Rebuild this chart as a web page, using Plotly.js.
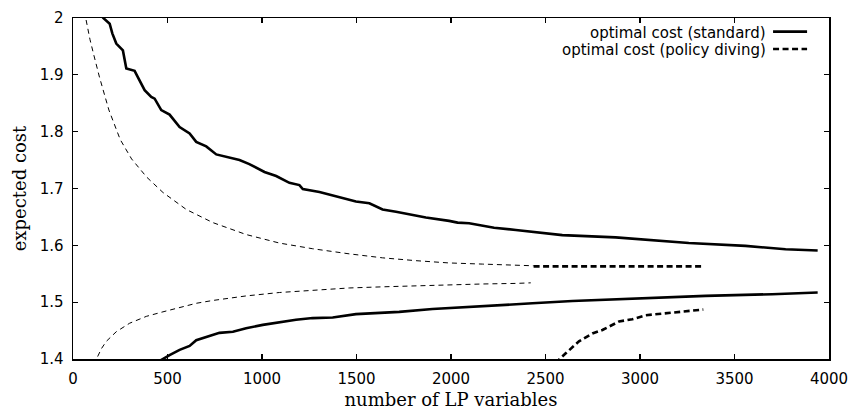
<!DOCTYPE html>
<html>
<head>
<meta charset="utf-8">
<script src="https://cdn.plot.ly/plotly-3.0.1.min.js"></script>
<style>html,body{margin:0;padding:0;background:#fff;}#chart{width:852px;height:414px;}</style>
</head>
<body>
<div id="chart"></div>
<script>
// optimal cost (standard): upper curve
var stdUpperX = [150, 160, 194, 208, 229, 264, 282, 326, 343, 379, 414, 432, 467, 511, 564, 617, 652, 705, 758, 811, 881, 933, 1013, 1075, 1145, 1198, 1216, 1304, 1348, 1427, 1497, 1568, 1638, 1709, 1797, 1867, 1990, 2035, 2096, 2228, 2343, 2449, 2519, 2589, 2871, 2994, 3100, 3258, 3558, 3770, 3940];
var stdUpperY = [2.005, 2.000, 1.990, 1.973, 1.955, 1.943, 1.911, 1.907, 1.896, 1.873, 1.861, 1.858, 1.838, 1.830, 1.808, 1.797, 1.782, 1.774, 1.760, 1.756, 1.750, 1.743, 1.729, 1.722, 1.710, 1.706, 1.699, 1.694, 1.690, 1.683, 1.677, 1.674, 1.663, 1.659, 1.653, 1.649, 1.643, 1.640, 1.639, 1.631, 1.627, 1.623, 1.621, 1.618, 1.614, 1.611, 1.609, 1.604, 1.599, 1.593, 1.591];
// optimal cost (standard): lower curve
var stdLowerX = [440, 470, 511, 564, 617, 652, 705, 775, 846, 916, 1004, 1092, 1180, 1268, 1374, 1497, 1726, 1902, 2078, 2255, 2431, 2642, 2994, 3347, 3699, 3940];
var stdLowerY = [1.393, 1.399, 1.407, 1.416, 1.423, 1.433, 1.439, 1.446, 1.448, 1.454, 1.460, 1.465, 1.469, 1.472, 1.473, 1.479, 1.483, 1.488, 1.491, 1.495, 1.498, 1.502, 1.507, 1.511, 1.514, 1.517];
// policy diving: thin upper curve
var pdThinUpperX = [60, 67, 90, 110, 140, 190, 250, 310, 390, 476, 600, 740, 916, 1092, 1268, 1462, 1638, 1815, 1990, 2166, 2343, 2437];
var pdThinUpperY = [2.012, 2.000, 1.962, 1.935, 1.896, 1.838, 1.786, 1.752, 1.720, 1.693, 1.663, 1.640, 1.619, 1.604, 1.594, 1.585, 1.578, 1.573, 1.569, 1.567, 1.565, 1.564];
// policy diving: thin lower curve
var pdThinLowerX = [110, 125, 150, 176, 229, 300, 388, 476, 564, 652, 740, 916, 1092, 1268, 1462, 1638, 1815, 1990, 2166, 2343, 2422];
var pdThinLowerY = [1.390, 1.400, 1.418, 1.431, 1.448, 1.463, 1.475, 1.483, 1.491, 1.498, 1.503, 1.511, 1.517, 1.521, 1.525, 1.527, 1.529, 1.531, 1.532, 1.533, 1.534];
// optimal cost (policy diving): thick upper segment
var pdUpperX = [2437, 2700, 3000, 3340];
var pdUpperY = [1.563, 1.563, 1.563, 1.563];
// optimal cost (policy diving): thick lower segment
var pdLowerX = [2555, 2575, 2607, 2677, 2748, 2801, 2889, 2959, 3030, 3170, 3335];
var pdLowerY = [1.392, 1.400, 1.410, 1.431, 1.445, 1.451, 1.466, 1.470, 1.477, 1.481, 1.487];

var xTicks = [0, 500, 1000, 1500, 2000, 2500, 3000, 3500, 4000];
var yTicks = [1.4, 1.5, 1.6, 1.7, 1.8, 1.9, 2];
var legendLabels = ['optimal cost (standard)', 'optimal cost (policy diving)'];

var thick = 2.6, thin = 1;
var traces = [
  {x: stdUpperX, y: stdUpperY, mode: 'lines', name: legendLabels[0], line: {color: '#000', width: thick}},
  {x: stdLowerX, y: stdLowerY, mode: 'lines', name: legendLabels[0], line: {color: '#000', width: thick}},
  {x: pdThinUpperX, y: pdThinUpperY, mode: 'lines', name: 'policy diving (thin upper)', line: {color: '#000', width: thin, dash: '5px,4px'}},
  {x: pdThinLowerX, y: pdThinLowerY, mode: 'lines', name: 'policy diving (thin lower)', line: {color: '#000', width: thin, dash: '5px,4px'}},
  {x: pdUpperX, y: pdUpperY, mode: 'lines', name: legendLabels[1], line: {color: '#000', width: thick, dash: '6px,3.5px'}},
  {x: pdLowerX, y: pdLowerY, mode: 'lines', name: legendLabels[1], line: {color: '#000', width: thick, dash: '6px,3.5px'}}
];

var tickFont = {family: 'DejaVu Sans, sans-serif', size: 15, color: '#000'};
var titleFont = {family: 'DejaVu Serif, serif', size: 18, color: '#000'};
var legendFont = {family: 'DejaVu Sans, sans-serif', size: 15, color: '#000'};
var axisCommon = {
  ticks: 'inside', ticklen: 5, tickwidth: 1.2, tickcolor: '#000',
  showline: true, linecolor: '#000', linewidth: 1.5, mirror: 'ticks',
  showgrid: false, zeroline: false, tickfont: tickFont, fixedrange: true
};

var layout = {
  width: 852, height: 414,
  margin: {l: 73, r: 23, t: 18, b: 55},
  paper_bgcolor: '#fff', plot_bgcolor: '#fff',
  showlegend: false,
  font: {family: 'DejaVu Sans, sans-serif', color: '#000'},
  xaxis: Object.assign({}, axisCommon, {
    range: [0, 4000], tickvals: xTicks, ticktext: xTicks.map(String),
    ticklabelstandoff: 5,
    title: {text: 'number of LP variables', font: titleFont, standoff: 7}
  }),
  yaxis: Object.assign({}, axisCommon, {
    range: [1.4, 2], tickvals: yTicks, ticktext: yTicks.map(String),
    ticklabelstandoff: 5,
    title: {text: 'expected cost', font: titleFont, standoff: 8}
  }),
  annotations: [
    {xref: 'paper', yref: 'paper', x: 0.918, y: 0.957, xanchor: 'right', yanchor: 'middle', text: legendLabels[0], showarrow: false, borderpad: 0, font: legendFont},
    {xref: 'paper', yref: 'paper', x: 0.918, y: 0.906, xanchor: 'right', yanchor: 'middle', text: legendLabels[1], showarrow: false, borderpad: 0, font: legendFont}
  ],
  shapes: [
    {type: 'line', xref: 'paper', yref: 'paper', x0: 0.926, x1: 0.971, y0: 0.960, y1: 0.960, line: {color: '#000', width: thick}},
    {type: 'line', xref: 'paper', yref: 'paper', x0: 0.926, x1: 0.971, y0: 0.909, y1: 0.909, line: {color: '#000', width: thick, dash: '6px,3.5px'}}
  ]
};

Plotly.newPlot('chart', traces, layout, {displayModeBar: false, staticPlot: true});
</script>
</body>
</html>
